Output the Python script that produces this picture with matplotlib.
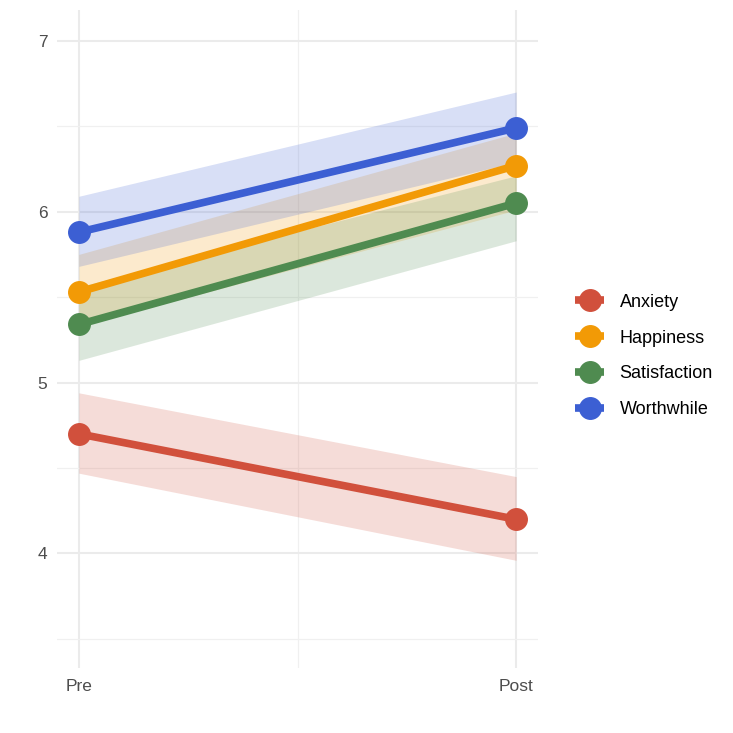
import matplotlib
matplotlib.use("Agg")
import matplotlib.pyplot as plt
from matplotlib.ticker import MultipleLocator

plt.rcParams["font.family"] = ["Liberation Sans", "DejaVu Sans"]

times = ["Pre", "Post"]
measures = ["Anxiety", "Happiness", "Satisfaction", "Worthwhile"]
means = {
    "Anxiety": [4.70, 4.20],
    "Happiness": [5.53, 6.27],
    "Satisfaction": [5.34, 6.05],
    "Worthwhile": [5.88, 6.49],
}
lower = {
    "Anxiety": [4.47, 3.96],
    "Happiness": [5.33, 6.01],
    "Satisfaction": [5.13, 5.83],
    "Worthwhile": [5.68, 6.29],
}
upper = {
    "Anxiety": [4.94, 4.45],
    "Happiness": [5.75, 6.46],
    "Satisfaction": [5.56, 6.21],
    "Worthwhile": [6.09, 6.70],
}
colors = {
    "Anxiety": "#D1503C",
    "Happiness": "#F29A06",
    "Satisfaction": "#4F8B50",
    "Worthwhile": "#3C5FD3",
}

fig = plt.figure(figsize=(7.33, 7.33), dpi=100)
ax = fig.add_axes([57/733, 1-668/733, (538-57)/733, (668-10)/733])

x = list(range(len(times)))
for m in measures:
    ax.fill_between(x, lower[m], upper[m], color=colors[m], alpha=0.2, lw=0, zorder=2)
for m in measures:
    ax.plot(x, means[m], color=colors[m], lw=5.5, marker="o", markersize=15.5,
            solid_capstyle="butt", label=m, zorder=3)

ax.set_xlim(-0.05, 1.05)
ax.set_ylim(3.33, 7.18)
ax.set_xticks(x)
ax.set_xticklabels(times)
ax.yaxis.set_major_locator(MultipleLocator(1))
ax.yaxis.set_minor_locator(MultipleLocator(0.5))
ax.xaxis.set_minor_locator(MultipleLocator(0.5))
ax.grid(which="major", color="#EBEBEB", lw=1.5, zorder=0)
ax.grid(which="minor", color="#F0F0F0", lw=0.9, zorder=0)
ax.set_axisbelow(True)
for s in ax.spines.values():
    s.set_visible(False)
ax.tick_params(which="both", length=0, labelsize=12.5, labelcolor="#4D4D4D")
ax.tick_params(axis="y", pad=7)
ax.tick_params(axis="x", pad=8)

leg = fig.legend(loc="center left", bbox_to_anchor=(559/733, 1-356/733), frameon=False,
                 fontsize=13, handlelength=1.6, labelspacing=1.05, handletextpad=0.85)

fig.savefig("out.png", dpi=100, facecolor="white")
